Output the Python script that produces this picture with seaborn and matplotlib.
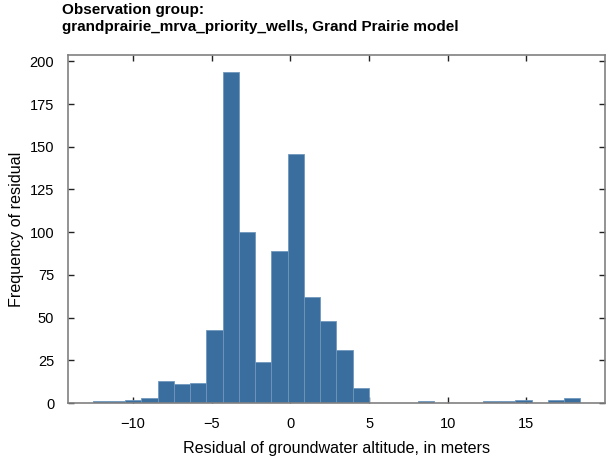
import numpy as np
import pandas as pd
import matplotlib
matplotlib.use("Agg")
import matplotlib.pyplot as plt
import seaborn as sns

# residual histogram, 30 equal bins between min and max residual
res_min = -12.57
res_max = 18.43
n_bins = 30
counts = [1, 1, 2, 3, 13, 11, 12, 43, 194, 100,
          24, 89, 146, 62, 48, 31, 9, 0, 0, 0,
          1, 0, 0, 0, 1, 1, 2, 0, 2, 3]

edges = np.linspace(res_min, res_max, n_bins + 1)
df = pd.DataFrame({"residual": (edges[:-1] + edges[1:]) / 2, "count": counts})

sns.set_theme(style="white")
plt.rcParams["font.family"] = ["Liberation Sans", "DejaVu Sans"]
plt.rcParams["text.color"] = "black"
plt.rcParams["axes.labelcolor"] = "black"

fig = plt.figure(figsize=(6.14, 4.58), dpi=100)
ax = fig.add_axes([0.111, 0.12, 0.874, 0.76])

sns.histplot(data=df, x="residual", weights="count", bins=edges.tolist(), ax=ax,
             color="#3a6e9f", alpha=1, edgecolor="#6f97bd", linewidth=0.6)

ax.set_yticks(np.arange(0, 201, 25))
ax.set_xticks([-10, -5, 0, 5, 10, 15])
ax.tick_params(direction="in", length=4.5, width=1, top=True, right=True,
               bottom=True, left=True, labelsize=10.5, colors="#222222",
               labelcolor="black", pad=10)
for s in ax.spines.values():
    s.set_color("#808080")
    s.set_linewidth(1.2)

ax.set_xlabel("Residual of groundwater altitude, in meters", fontsize=11.6, labelpad=7)
ax.set_ylabel("Frequency of residual", fontsize=11.6, labelpad=4)
fig.text(0.101, 0.994, "Observation group:\ngrandprairie_mrva_priority_wells, Grand Prairie model",
         ha="left", va="top", fontsize=11, fontweight="bold", linespacing=1.3)

fig.savefig("out.png", dpi=100)
